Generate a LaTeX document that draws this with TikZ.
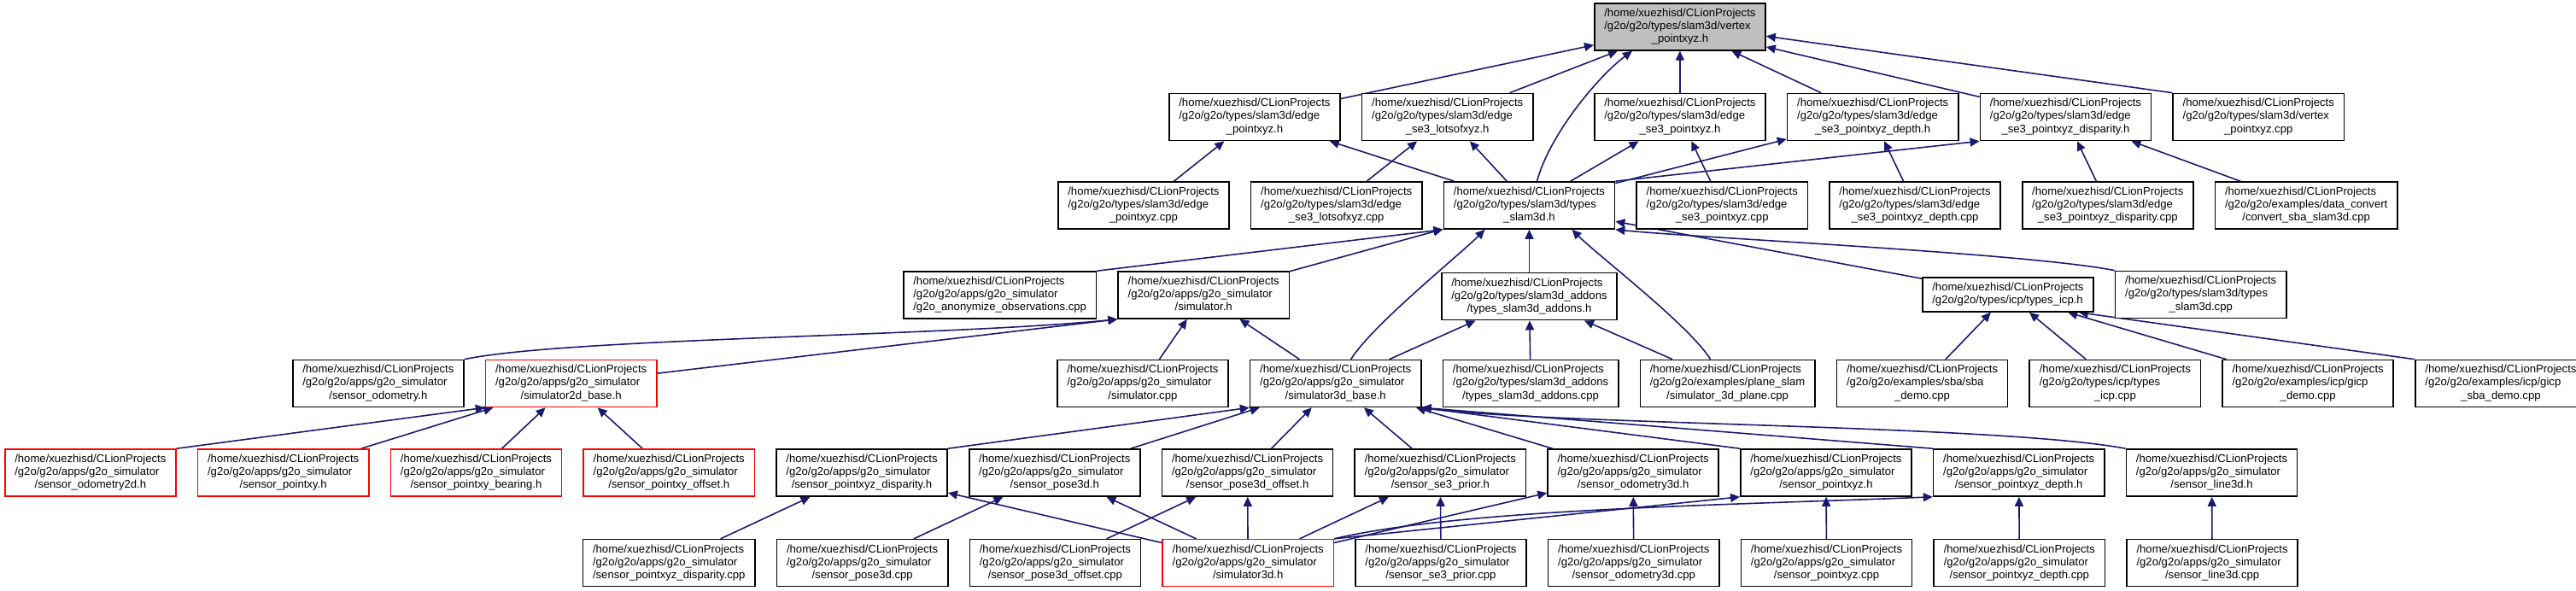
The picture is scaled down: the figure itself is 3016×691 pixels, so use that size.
\documentclass[tikz,border=0pt]{standalone}
\usepackage{fontspec}
\setmainfont{Liberation Sans}
\usepackage{tikz}
\usetikzlibrary{positioning, arrows.meta, calc, backgrounds}

\definecolor{edgeblue}{HTML}{191970}
% three-line file label: first lines left, last line centred
\newcommand{\fpath}[2]{\begin{tabular}{@{}l@{}}/home/xuezhisd/CLionProjects\\#1\\\multicolumn{1}{@{}c@{}}{#2}\end{tabular}}

\begin{document}
\begin{tikzpicture}[
        x=0.01cm, y=0.01cm,
        node distance=0.49cm and 0.24cm,
        srcfile/.style={rectangle, draw=black, line width=0.45pt, fill=white, minimum width=2cm, minimum height=0.55cm, inner xsep=0.115cm, inner ysep=0.02cm, font=\fontsize{3.73}{4.27}\selectfont},
        truncfile/.style={srcfile, draw=red},
        focusfile/.style={srcfile, fill=black!25},
        incl/.style={-{Triangle[length=0.11cm, width=0.1cm]}, draw=edgeblue, line width=0.45pt},
    ]
    \useasboundingbox (0,0) rectangle (3016,691);

    % === ROW 1: direct includers ===
    \node[srcfile, anchor=west] (epxh) at (1368,554) {\fpath{/g2o/g2o/types/slam3d/edge}{\_pointxyz.h}};
    \node[srcfile, right=of epxh] (elotsh) {\fpath{/g2o/g2o/types/slam3d/edge}{\_se3\_lotsofxyz.h}};
    \node[srcfile, anchor=west] (esepxh) at (1866,554) {\fpath{/g2o/g2o/types/slam3d/edge}{\_se3\_pointxyz.h}};
    \node[srcfile, right=of esepxh] (edepthh) {\fpath{/g2o/g2o/types/slam3d/edge}{\_se3\_pointxyz\_depth.h}};
    \node[srcfile, right=of edepthh] (edisph) {\fpath{/g2o/g2o/types/slam3d/edge}{\_se3\_pointxyz\_disparity.h}};
    \node[srcfile, right=of edisph] (vtxcpp) {\fpath{/g2o/g2o/types/slam3d/vertex}{\_pointxyz.cpp}};

    % === ROW 0: the header itself ===
    \node[focusfile, above=of esepxh] (vtxh) {\fpath{/g2o/g2o/types/slam3d/vertex}{\_pointxyz.h}};

    % === ROW 2 ===
    \node[srcfile, anchor=west] (epxcpp) at (1238,450.5) {\fpath{/g2o/g2o/types/slam3d/edge}{\_pointxyz.cpp}};
    \node[srcfile, right=of epxcpp] (elotscpp) {\fpath{/g2o/g2o/types/slam3d/edge}{\_se3\_lotsofxyz.cpp}};
    \node[srcfile, right=of elotscpp] (tslamh) {\fpath{/g2o/g2o/types/slam3d/types}{\_slam3d.h}};
    \node[srcfile, right=of tslamh] (esepxcpp) {\fpath{/g2o/g2o/types/slam3d/edge}{\_se3\_pointxyz.cpp}};
    \node[srcfile, right=of esepxcpp] (edepthcpp) {\fpath{/g2o/g2o/types/slam3d/edge}{\_se3\_pointxyz\_depth.cpp}};
    \node[srcfile, right=of edepthcpp] (edispcpp) {\fpath{/g2o/g2o/types/slam3d/edge}{\_se3\_pointxyz\_disparity.cpp}};
    \node[srcfile, right=of edispcpp] (convcpp) {\fpath{/g2o/g2o/examples/data\_convert}{/convert\_sba\_slam3d.cpp}};

    % === ROW 3 ===
    \node[srcfile, anchor=west] (anoncpp) at (1057,345.5) {\fpath{/g2o/g2o/apps/g2o\_simulator}{/g2o\_anonymize\_observations.cpp}};
    \node[srcfile, right=of anoncpp] (simh) {\fpath{/g2o/g2o/apps/g2o\_simulator}{/simulator.h}};
    \node[srcfile, below=0.5cm of tslamh] (addonsh) {\fpath{/g2o/g2o/types/slam3d\_addons}{/types\_slam3d\_addons.h}};
    \node[srcfile, anchor=west, minimum height=0.4cm] (icph) at (2250,346) {\begin{tabular}{@{}l@{}}/home/xuezhisd/CLionProjects\\/g2o/g2o/types/icp/types\_icp.h\end{tabular}};
    \node[srcfile, right=of icph] (tslamcpp) {\fpath{/g2o/g2o/types/slam3d/types}{\_slam3d.cpp}};

    % === ROW 4 ===
    \node[srcfile, anchor=west] (sodomh) at (342,242) {\fpath{/g2o/g2o/apps/g2o\_simulator}{/sensor\_odometry.h}};
    \node[truncfile, right=of sodomh] (sim2dh) {\fpath{/g2o/g2o/apps/g2o\_simulator}{/simulator2d\_base.h}};
    \node[srcfile, anchor=west] (simcpp) at (1237,242) {\fpath{/g2o/g2o/apps/g2o\_simulator}{/simulator.cpp}};
    \node[srcfile, right=of simcpp] (sim3dbh) {\fpath{/g2o/g2o/apps/g2o\_simulator}{/simulator3d\_base.h}};
    \node[srcfile, right=of sim3dbh] (addonscpp) {\fpath{/g2o/g2o/types/slam3d\_addons}{/types\_slam3d\_addons.cpp}};
    \node[srcfile, right=of addonscpp] (planecpp) {\fpath{/g2o/g2o/examples/plane\_slam}{/simulator\_3d\_plane.cpp}};
    \node[srcfile, right=of planecpp] (sbacpp) {\fpath{/g2o/g2o/examples/sba/sba}{\_demo.cpp}};
    \node[srcfile, right=of sbacpp] (icpcpp) {\fpath{/g2o/g2o/types/icp/types}{\_icp.cpp}};
    \node[srcfile, right=of icpcpp] (gicpcpp) {\fpath{/g2o/g2o/examples/icp/gicp}{\_demo.cpp}};
    \node[srcfile, right=of gicpcpp] (gicpsbacpp) {\fpath{/g2o/g2o/examples/icp/gicp}{\_sba\_demo.cpp}};

    % === ROW 5: sensors ===
    \node[truncfile, anchor=west] (sodom2dh) at (5,137.5) {\fpath{/g2o/g2o/apps/g2o\_simulator}{/sensor\_odometry2d.h}};
    \node[truncfile, right=of sodom2dh] (spxyh) {\fpath{/g2o/g2o/apps/g2o\_simulator}{/sensor\_pointxy.h}};
    \node[truncfile, right=of spxyh] (sbearh) {\fpath{/g2o/g2o/apps/g2o\_simulator}{/sensor\_pointxy\_bearing.h}};
    \node[truncfile, right=of sbearh] (soffh) {\fpath{/g2o/g2o/apps/g2o\_simulator}{/sensor\_pointxy\_offset.h}};
    \node[srcfile, right=of soffh] (sdisph) {\fpath{/g2o/g2o/apps/g2o\_simulator}{/sensor\_pointxyz\_disparity.h}};
    \node[srcfile, right=of sdisph] (sposeh) {\fpath{/g2o/g2o/apps/g2o\_simulator}{/sensor\_pose3d.h}};
    \node[srcfile, right=of sposeh] (sposeoffh) {\fpath{/g2o/g2o/apps/g2o\_simulator}{/sensor\_pose3d\_offset.h}};
    \node[srcfile, right=of sposeoffh] (spriorh) {\fpath{/g2o/g2o/apps/g2o\_simulator}{/sensor\_se3\_prior.h}};
    \node[srcfile, right=of spriorh] (sodom3dh) {\fpath{/g2o/g2o/apps/g2o\_simulator}{/sensor\_odometry3d.h}};
    \node[srcfile, right=of sodom3dh] (spxyzh) {\fpath{/g2o/g2o/apps/g2o\_simulator}{/sensor\_pointxyz.h}};
    \node[srcfile, right=of spxyzh] (sdepthh) {\fpath{/g2o/g2o/apps/g2o\_simulator}{/sensor\_pointxyz\_depth.h}};
    \node[srcfile, right=of sdepthh] (sline3dh) {\fpath{/g2o/g2o/apps/g2o\_simulator}{/sensor\_line3d.h}};

    % === ROW 6 ===
    \node[srcfile, below=of soffh] (sdispcpp) {\fpath{/g2o/g2o/apps/g2o\_simulator}{/sensor\_pointxyz\_disparity.cpp}};
    \node[srcfile, right=of sdispcpp] (sposecpp) {\fpath{/g2o/g2o/apps/g2o\_simulator}{/sensor\_pose3d.cpp}};
    \node[srcfile, right=of sposecpp] (sposeoffcpp) {\fpath{/g2o/g2o/apps/g2o\_simulator}{/sensor\_pose3d\_offset.cpp}};
    \node[truncfile, right=of sposeoffcpp] (sim3dh) {\fpath{/g2o/g2o/apps/g2o\_simulator}{/simulator3d.h}};
    \node[srcfile, right=of sim3dh] (spriorcpp) {\fpath{/g2o/g2o/apps/g2o\_simulator}{/sensor\_se3\_prior.cpp}};
    \node[srcfile, right=of spriorcpp] (sodom3dcpp) {\fpath{/g2o/g2o/apps/g2o\_simulator}{/sensor\_odometry3d.cpp}};
    \node[srcfile, right=of sodom3dcpp] (spxyzcpp) {\fpath{/g2o/g2o/apps/g2o\_simulator}{/sensor\_pointxyz.cpp}};
    \node[srcfile, right=of spxyzcpp] (sdepthcpp) {\fpath{/g2o/g2o/apps/g2o\_simulator}{/sensor\_pointxyz\_depth.cpp}};
    \node[srcfile, right=of sdepthcpp] (sline3dcpp) {\fpath{/g2o/g2o/apps/g2o\_simulator}{/sensor\_line3d.cpp}};

    % === INCLUDE EDGES ===
    \begin{scope}[on background layer]
    % into vertex_pointxyz.h
    \draw[incl] (epxh) -- (vtxh);
    \draw[incl] (elotsh) -- (vtxh);
    \draw[incl] ($(tslamh.north)+(9,0)$) .. controls +(15,55) and +(-40,-30) .. ($(vtxh.south)+(-56,0)$);
    \draw[incl] (esepxh) -- (vtxh);
    \draw[incl] (edepthh) -- (vtxh);
    \draw[incl] (edisph) -- (vtxh);
    \draw[incl] (vtxcpp.north west) -- ($(vtxh.east)+(0,-11)$);

    % into the edge headers
    \draw[incl] (epxcpp) -- (epxh);
    \draw[incl] (tslamh) -- (epxh);
    \draw[incl] (elotscpp) -- (elotsh);
    \draw[incl] (tslamh) -- (elotsh);
    \draw[incl] (tslamh) -- (esepxh);
    \draw[incl] (esepxcpp) -- (esepxh);
    \draw[incl] (tslamh) -- (edepthh);
    \draw[incl] (edepthcpp) -- (edepthh);
    \draw[incl] (tslamh.north east) -- (edisph.south west);
    \draw[incl] (edispcpp) -- (edisph);
    \draw[incl] (convcpp) -- (edisph);

    % into types_slam3d.h
    \draw[incl] (anoncpp.north east) -- (tslamh.south west);
    \draw[incl] (simh) -- (tslamh);
    \draw[incl] ($(sim3dbh.north)+(18,0)$) .. controls +(25,40) and +(-30,-30) .. ($(tslamh.south)+(-52,0)$);
    \draw[incl] (addonsh) -- (tslamh);
    \draw[incl] ($(planecpp.north)+(-20,0)$) .. controls +(-25,40) and +(30,-30) .. ($(tslamh.south)+(50,0)$);
    \draw[incl] (icph) -- (tslamh);
    \draw[incl] (tslamcpp.north west) .. controls +(-100,20) and +(100,-10) .. (tslamh.south east);

    % into simulator.h
    \draw[incl] (sodomh.north east) .. controls +(120,25) and +(-200,-20) .. (simh.south west);
    \draw[incl] (sim2dh) -- (simh.south west);
    \draw[incl] (simcpp) -- (simh);
    \draw[incl] (sim3dbh) -- (simh);

    % into types_slam3d_addons.h and types_icp.h
    \draw[incl] (sim3dbh) -- (addonsh);
    \draw[incl] (addonscpp) -- (addonsh);
    \draw[incl] (planecpp) -- (addonsh);
    \draw[incl] (sbacpp) -- (icph);
    \draw[incl] (icpcpp) -- (icph);
    \draw[incl] (gicpcpp) -- (icph);
    \draw[incl] (gicpsbacpp.north west) -- ($(icph.south east)+(-18,0)$);

    % into simulator2d_base.h
    \draw[incl] (sodom2dh.north east) -- (sim2dh.south west);
    \draw[incl] (spxyh) -- (sim2dh);
    \draw[incl] (sbearh) -- (sim2dh);
    \draw[incl] (soffh) -- (sim2dh);

    % into simulator3d_base.h
    \draw[incl] (sdisph.north east) -- (sim3dbh.south west);
    \draw[incl] (sposeh) -- (sim3dbh);
    \draw[incl] (sposeoffh) -- (sim3dbh);
    \draw[incl] (spriorh) -- (sim3dbh);
    \draw[incl] (sodom3dh) -- (sim3dbh);
    \draw[incl] (spxyzh.north west) -- (sim3dbh.south east);
    \draw[incl] (sdepthh.north west) -- (sim3dbh.south east);
    \draw[incl] (sline3dh.north west) .. controls +(-150,28) and +(150,-20) .. (sim3dbh.south east);

    % into the sensor headers
    \draw[incl] (sdispcpp) -- (sdisph);
    \draw[incl] (sim3dh) -- (sdisph);
    \draw[incl] (sposecpp) -- (sposeh);
    \draw[incl] (sim3dh) -- (sposeh);
    \draw[incl] (sposeoffcpp) -- (sposeoffh);
    \draw[incl] (sim3dh) -- (sposeoffh);
    \draw[incl] (sim3dh) -- (spriorh);
    \draw[incl] (spriorcpp) -- (spriorh);
    \draw[incl] (sim3dh) -- (sodom3dh);
    \draw[incl] (sodom3dcpp) -- (sodom3dh);
    \draw[incl] (sim3dh.north east) -- (spxyzh.south west);
    \draw[incl] (spxyzcpp) -- (spxyzh);
    \draw[incl] (sim3dh.north east) .. controls +(150,35) and +(-250,-10) .. (sdepthh.south west);
    \draw[incl] (sdepthcpp) -- (sdepthh);
    \draw[incl] (sline3dcpp) -- (sline3dh);
    \end{scope}

\end{tikzpicture}
\end{document}
